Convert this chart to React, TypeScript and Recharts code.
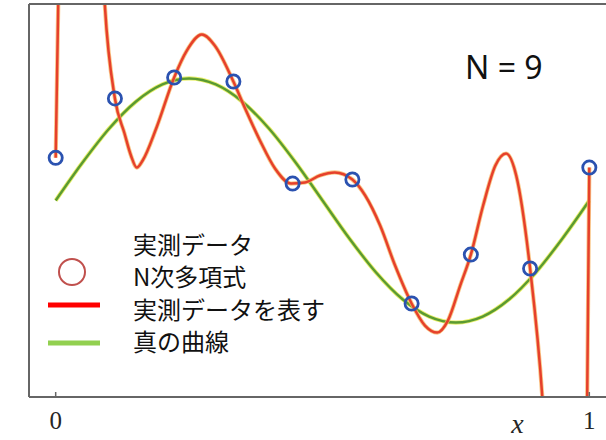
import { ComposedChart, Line, Scatter, XAxis, YAxis, Legend, Label } from 'recharts'

// observed points (blue circles)
const OBS_X = [0, 0.111, 0.222, 0.333, 0.444, 0.556, 0.667, 0.778, 0.889, 1.0]
const OBS_Y = [0.35, 0.836, 1.008, 0.975, 0.139, 0.172, -0.844, -0.443, -0.557, 0.27]

// true curve (green)
const TRUE_X = [0, 0.05, 0.1, 0.15, 0.2, 0.25, 0.3, 0.35, 0.4, 0.45, 0.5, 0.55, 0.6, 0.65, 0.7, 0.75, 0.8, 0.85, 0.9, 0.95, 1.0]
const TRUE_Y = [0, 0.309, 0.588, 0.809, 0.951, 1.0, 0.951, 0.809, 0.588, 0.309, 0, -0.309, -0.588, -0.809, -0.951, -1.0, -0.951, -0.809, -0.588, -0.309, 0]

// N = 9 fit (red)
const FIT_X = [0, 0.0055, 0.03, 0.06, 0.085, 0.092, 0.111, 0.129, 0.141, 0.152, 0.163, 0.189, 0.222, 0.246, 0.274, 0.298, 0.333, 0.355, 0.383, 0.411, 0.441, 0.467, 0.495, 0.523, 0.556, 0.58, 0.608, 0.636, 0.667, 0.692, 0.715, 0.735, 0.758, 0.778, 0.801, 0.824, 0.844, 0.863, 0.889, 0.912, 0.94, 0.975, 0.993, 0.996, 1.0]
const FIT_Y = [0.35, 1.8, 4.0, 4.2, 2.2, 1.607, 0.836, 0.549, 0.369, 0.27, 0.328, 0.598, 1.008, 1.23, 1.36, 1.27, 0.975, 0.754, 0.49, 0.262, 0.139, 0.148, 0.205, 0.23, 0.172, 0.041, -0.205, -0.533, -0.844, -1.025, -1.082, -0.984, -0.697, -0.443, -0.041, 0.287, 0.385, 0.205, -0.557, -1.615, -4.0, -4.2, -2.4, -1.615, 0.27]

const X_TICKS = [0, 1]
const Y_TICKS = [-1, 0, 1]
const X_DOMAIN = [-0.05, 1.05]
const Y_DOMAIN = [-1.61, 1.61]

const LEGEND_LINES = ['実測データ', 'N次多項式', '実測データを表す', '真の曲線']
const ORDER_LABEL = 'N = 9'
const X_LABEL = 'x'

const toPoints = (xs: number[], ys: number[]) => xs.map((x, i) => ({ x, y: ys[i] }))

const obsData = toPoints(OBS_X, OBS_Y)
const trueData = toPoints(TRUE_X, TRUE_Y)
const fitData = toPoints(FIT_X, FIT_Y)

const FRAME = '#666'

function RingShape(props: { cx?: number; cy?: number }) {
  const { cx = 0, cy = 0 } = props
  return <circle cx={cx} cy={cy} r={6.6} fill="none" stroke="#2b52b0" strokeWidth={2.8} />
}

function LegendBlock() {
  return (
    <div style={{ position: 'relative', width: 300, height: 140 }}>
      <svg width={80} height={140} style={{ position: 'absolute', left: 0, top: 0 }}>
        <circle cx={32} cy={44} r={13} fill="none" stroke="#c0504d" strokeWidth={2} />
        <line x1={8} x2={60} y1={77} y2={77} stroke="#ff0000" strokeWidth={5} />
        <line x1={8} x2={60} y1={115} y2={115} stroke="#92d050" strokeWidth={5} />
      </svg>
      <div
        style={{
          position: 'absolute',
          left: 93,
          top: 0,
          fontFamily: '"Noto Sans CJK JP", sans-serif',
          fontSize: 24,
          lineHeight: '32.3px',
          color: '#111',
          whiteSpace: 'nowrap',
        }}
      >
        {LEGEND_LINES.map((t) => (
          <div key={t}>{t}</div>
        ))}
      </div>
    </div>
  )
}

export default function App() {
  const serif = { fontFamily: '"Liberation Serif", serif', fontSize: 25, fill: '#262626' }
  return (
    <div style={{ position: 'absolute', left: 0, top: 0, width: 606, height: 440, overflow: 'hidden', background: '#fff' }}>
      <ComposedChart width={640} height={440} margin={{ top: 0, right: 24, bottom: 0, left: 0 }}>
        <XAxis
          dataKey="x"
          type="number"
          domain={X_DOMAIN}
          allowDataOverflow
          ticks={X_TICKS}
          height={43}
          tickSize={-5}
          tickMargin={19}
          axisLine={{ stroke: FRAME, strokeWidth: 2 }}
          tickLine={{ stroke: FRAME, strokeWidth: 1.5 }}
          tick={serif}
        >
          <Label
            value={X_LABEL}
            position="insideBottom"
            offset={7}
            dx={195}
            style={{ fontFamily: '"Liberation Serif", serif', fontStyle: 'italic', fontSize: 28, fill: '#262626' }}
          />
        </XAxis>
        <XAxis
          xAxisId="top"
          orientation="top"
          dataKey="x"
          type="number"
          domain={X_DOMAIN}
          allowDataOverflow
          ticks={X_TICKS}
          height={4}
          tickSize={-5}
          tick={false}
          axisLine={{ stroke: FRAME, strokeWidth: 2 }}
          tickLine={{ stroke: FRAME, strokeWidth: 1.5 }}
        />
        <YAxis
          type="number"
          domain={Y_DOMAIN}
          allowDataOverflow
          ticks={Y_TICKS}
          width={29}
          tickSize={-5}
          tick={false}
          axisLine={{ stroke: FRAME, strokeWidth: 2 }}
          tickLine={{ stroke: FRAME, strokeWidth: 1.5 }}
        />
        <Legend
          layout="horizontal"
          verticalAlign="middle"
          align="center"
          content={() => <LegendBlock />}
          wrapperStyle={{ position: 'absolute', left: 40, top: 228, width: 300, height: 140 }}
        />
        <Line data={trueData} dataKey="y" type="monotone" stroke="#e8ef6a" strokeWidth={4.2} dot={false} isAnimationActive={false} legendType="none" />
        <Line data={trueData} dataKey="y" type="monotone" stroke="#5a9a32" strokeWidth={2.4} dot={false} isAnimationActive={false} legendType="none" />
        <Line data={fitData} dataKey="y" type="monotone" stroke="#f8b86a" strokeWidth={4.2} strokeOpacity={0.8} dot={false} isAnimationActive={false} legendType="none" />
        <Line data={fitData} dataKey="y" type="monotone" stroke="#e6402b" strokeWidth={2.5} dot={false} isAnimationActive={false} legendType="none" />
        <Scatter data={obsData} dataKey="y" shape={<RingShape />} isAnimationActive={false} legendType="none" />
      </ComposedChart>
      <div
        style={{
          position: 'absolute',
          left: 465,
          top: 51,
          fontFamily: '"Noto Sans", sans-serif',
          fontSize: 32,
          lineHeight: '32px',
          color: '#111',
          whiteSpace: 'nowrap',
        }}
      >
        {ORDER_LABEL}
      </div>
    </div>
  )
}
